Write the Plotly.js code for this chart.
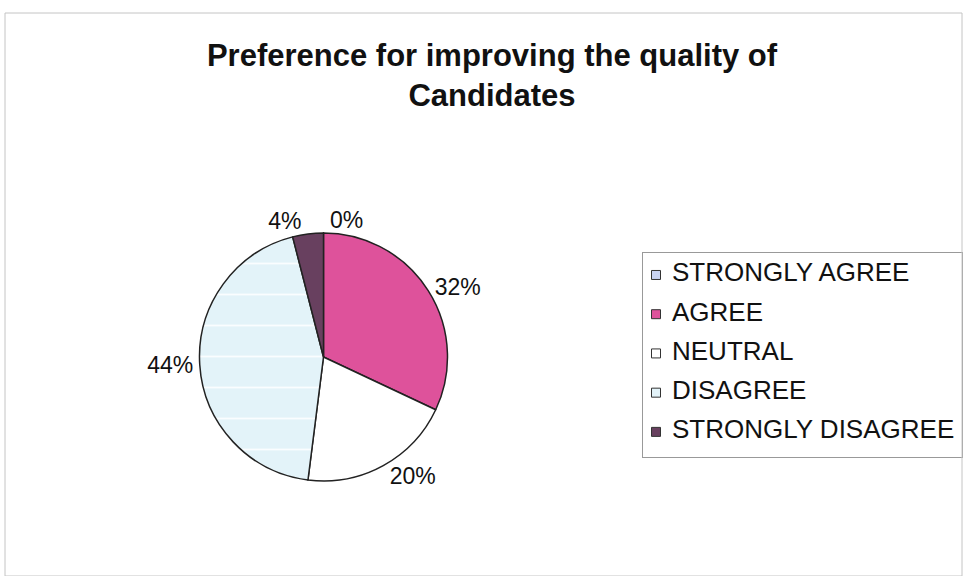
<!DOCTYPE html>
<html>
<head>
<meta charset="utf-8">
<script src="https://cdn.plot.ly/plotly-3.0.1.min.js"></script>
<style>
  html, body { margin: 0; padding: 0; background: #fff; }
  #chart { width: 963px; height: 576px; }
</style>
</head>
<body>
<div id="chart"></div>
<script>
// responses (counts out of 50)
const categories = ["STRONGLY AGREE", "AGREE", "NEUTRAL", "DISAGREE", "STRONGLY DISAGREE"];
const responses = [0, 16, 10, 22, 2];
const sliceColors = ["#c9d3f2", "#de529b", "#ffffff", "#e3f3f9", "#68405f"];

const W = 963, H = 576;
const font = "Arial, 'Liberation Sans', sans-serif";

// pie
const pie = {
  type: "pie",
  labels: categories,
  values: responses,
  sort: false,
  direction: "clockwise",
  rotation: 0,
  textinfo: "percent",
  textposition: "outside",
  outsidetextfont: { family: font, size: 23, color: "#111" },
  marker: {
    colors: sliceColors,
    line: { color: "#222", width: 1.5 },
    pattern: {
      shape: ["", "", "", "-", ""],
      bgcolor: sliceColors,
      fgcolor: "#fafdff",
      size: 31,
      solidity: 0.06
    }
  },
  domain: { x: [199.5 / W, 447.5 / W], y: [1 - 481 / H, 1 - 233 / H] },
  showlegend: false,
  hoverinfo: "label+percent"
};

// legend drawn as a small scatter panel so the row spacing matches
const legendRows = categories.map((c, i) => i);
const legendSwatches = {
  type: "scatter",
  mode: "markers",
  x: categories.map(() => 13),
  y: legendRows,
  marker: { symbol: "square", size: 9, color: sliceColors, line: { color: "#333", width: 1 } },
  xaxis: "x2",
  yaxis: "y2",
  hoverinfo: "skip",
  showlegend: false
};
const legendText = {
  type: "scatter",
  mode: "text",
  x: categories.map(() => 29),
  y: legendRows,
  text: categories,
  textposition: "middle right",
  textfont: { family: font, size: 26, color: "#111" },
  xaxis: "x2",
  yaxis: "y2",
  hoverinfo: "skip",
  showlegend: false
};

const layout = {
  width: W,
  height: H,
  margin: { l: 0, r: 0, t: 0, b: 0 },
  paper_bgcolor: "#fff",
  plot_bgcolor: "rgba(0,0,0,0)",
  showlegend: false,
  title: {
    text: "<b>Preference for improving the quality of<br>Candidates</b>",
    font: { family: font, size: 31, color: "#111" },
    x: 492 / W,
    xanchor: "center",
    y: 1 - 66 / H,
    yanchor: "top"
  },
  xaxis2: {
    domain: [643 / W, 962 / W], range: [0, 319], anchor: "y2",
    showgrid: false, zeroline: false, showticklabels: false, ticks: "",
    showline: true, mirror: true, linecolor: "#999", linewidth: 1, fixedrange: true
  },
  yaxis2: {
    domain: [1 - 457 / H, 1 - 253 / H], range: [4.64, -0.56], anchor: "x2",
    showgrid: false, zeroline: false, showticklabels: false, ticks: "",
    showline: true, mirror: true, linecolor: "#999", linewidth: 1, fixedrange: true
  },
  shapes: [
    { type: "rect", xref: "paper", yref: "paper", x0: 5 / W, x1: 962 / W, y0: 0, y1: 1 - 13 / H,
      line: { color: "#c4c4c4", width: 1 } }
  ]
};

Plotly.newPlot("chart", [pie, legendSwatches, legendText], layout, { displayModeBar: false, staticPlot: true });
</script>
</body>
</html>
